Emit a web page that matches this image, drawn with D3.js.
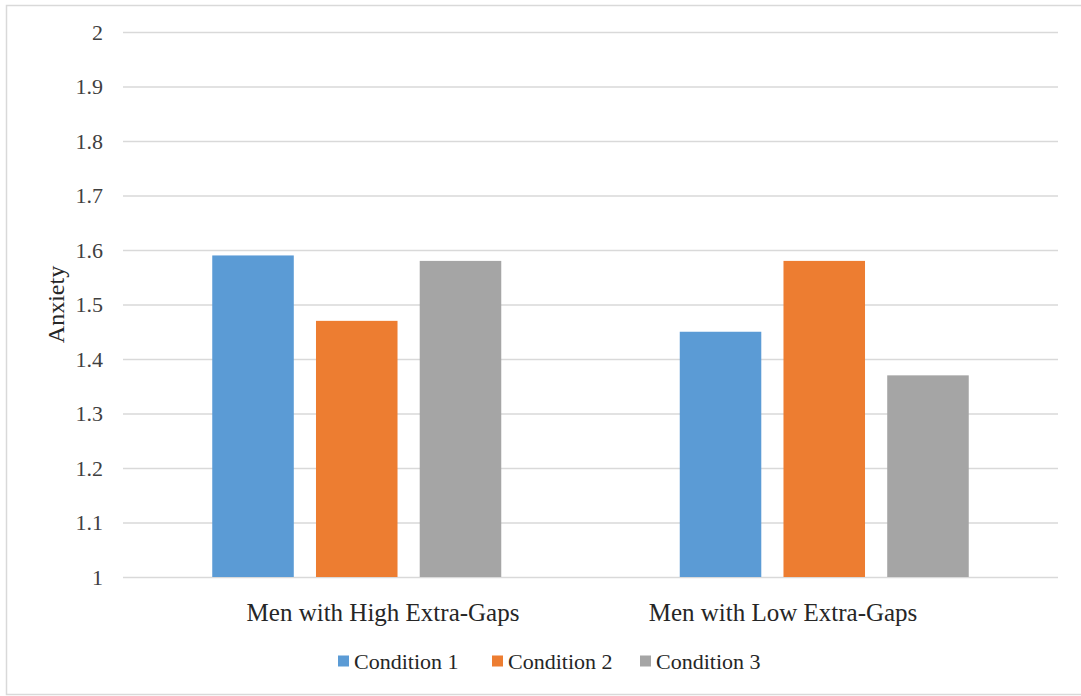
<!DOCTYPE html>
<html>
<head>
<meta charset="utf-8">
<script src="https://cdn.jsdelivr.net/npm/d3@7"></script>
<style>
  html, body { margin: 0; padding: 0; background: #fff; }
  svg { display: block; }
  svg text { font-family: "Liberation Serif", "Times New Roman", "DejaVu Serif", serif; }
</style>
</head>
<body>
<svg id="chart" width="1081" height="696"></svg>
<script>
// Mean anxiety by group and condition
const groups = ["Men with High Extra-Gaps", "Men with Low Extra-Gaps"];
const seriesNames = ["Condition 1", "Condition 2", "Condition 3"];
const condition1 = [1.59, 1.45];
const condition2 = [1.47, 1.58];
const condition3 = [1.58, 1.37];
const seriesValues = [condition1, condition2, condition3];
const yTicks = [1, 1.1, 1.2, 1.3, 1.4, 1.5, 1.6, 1.7, 1.8, 1.9, 2];
const colors = ["#5B9BD5", "#ED7D31", "#A5A5A5"];

const svg = d3.select("#chart");

// chart border
svg.append("rect")
  .attr("x", 6.5).attr("y", 5.5)
  .attr("width", 1090).attr("height", 689)
  .attr("fill", "none").attr("stroke", "#d9d9d9").attr("stroke-width", 1.5);

const plot = { left: 123, right: 1058, top: 32, bottom: 577 };

const y = d3.scaleLinear().domain([1, 2]).range([plot.bottom, plot.top]);
const x0 = d3.scaleBand().domain(groups).range([plot.left, plot.right]).padding(0);
const x1 = d3.scaleBand().domain(seriesNames).range([-144.5, 144.5]).paddingInner(0.214).paddingOuter(0);
// category captions sit on a slightly narrower band than the bars
const xLabel = d3.scaleBand().domain(groups).range([183, 983]).padding(0);

// gridlines + y tick labels
const yAxis = d3.axisLeft(y).tickValues(yTicks)
  .tickSize(-(plot.right - plot.left)).tickPadding(20)
  .tickFormat(d => d3.format("")(+d.toFixed(1)));
const gy = svg.append("g").attr("transform", `translate(${plot.left},0)`).call(yAxis)
  .attr("font-family", null).attr("font-size", null);
gy.select(".domain").remove();
gy.selectAll(".tick line").attr("stroke", "#d9d9d9").attr("stroke-width", 1.5);
gy.selectAll(".tick text")
  .attr("fill", "#404040").style("font-size", "22px");

// bars
const data = [];
groups.forEach((g, gi) => {
  seriesNames.forEach((s, si) => {
    data.push({ group: g, series: s, value: seriesValues[si][gi], color: colors[si] });
  });
});
svg.append("g").selectAll("rect").data(data).join("rect")
  .attr("x", d => x0(d.group) + x0.bandwidth() / 2 + x1(d.series))
  .attr("width", x1.bandwidth())
  .attr("y", d => y(d.value))
  .attr("height", d => y(1) - y(d.value))
  .attr("fill", d => d.color);

// x category labels
const xAxis = d3.axisBottom(xLabel).tickSize(0).tickPadding(26);
const gx = svg.append("g").attr("transform", `translate(0,${plot.bottom})`).call(xAxis)
  .attr("font-family", null).attr("font-size", null);
gx.select(".domain").remove();
gx.selectAll(".tick text")
  .attr("fill", "#262626").style("font-size", "25px");

// y axis title
svg.append("text")
  .attr("transform", `translate(64,${(plot.top + plot.bottom) / 2}) rotate(-90)`)
  .attr("text-anchor", "middle")
  .attr("fill", "#262626").style("font-size", "24px")
  .text("Anxiety");

// legend
const legendX = [338, 492, 640];
const legend = svg.append("g").selectAll("g").data(seriesNames).join("g")
  .attr("transform", (d, i) => `translate(${legendX[i]},661)`);
legend.append("rect")
  .attr("x", 0).attr("y", -5.5).attr("width", 11).attr("height", 11)
  .attr("fill", (d, i) => colors[i]);
legend.append("text")
  .attr("x", 16).attr("y", 0).attr("dy", "0.35em")
  .attr("fill", "#262626").style("font-size", "22px")
  .text(d => d);
</script>
</body>
</html>
